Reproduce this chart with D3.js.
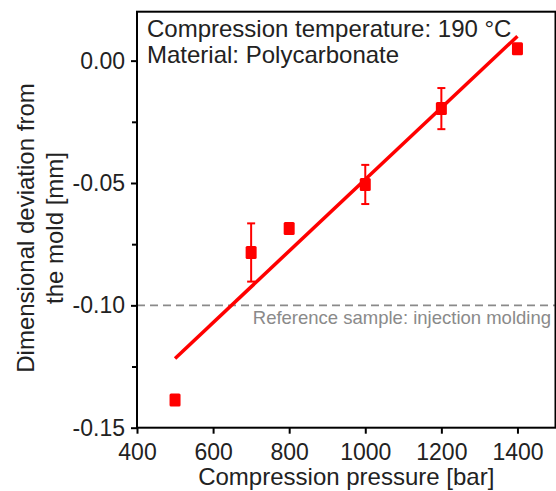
<!DOCTYPE html>
<html>
<head>
<meta charset="utf-8">
<script src="https://cdn.jsdelivr.net/npm/d3@7"></script>
<style>
  body { margin: 0; background: #fff; }
  text { font-family: "Liberation Sans", Arial, sans-serif; }
</style>
</head>
<body>
<div id="chart"></div>
<script>
"use strict";

var pressures = [500, 700, 800, 1000, 1200, 1400];
var deviations = [-0.1387, -0.0784, -0.0686, -0.0506, -0.0196, 0.0049];
var errors = [0.001, 0.0119, 0.001, 0.008, 0.0084, 0.001];
var fitPressures = [500, 1400];
var fitDeviations = [-0.1217, 0.0100];
var referenceValue = -0.10;
var xTicks = [400, 600, 800, 1000, 1200, 1400];
var yTicks = [0, -0.05, -0.10, -0.15];
var yMinorTicks = [-0.025, -0.075, -0.125];
var notes = ["Compression temperature: 190 °C", "Material: Polycarbonate"];
var referenceLabel = "Reference sample: injection molding";
var xTitle = "Compression pressure [bar]";
var yTitle = ["Dimensional deviation from", "the mold [mm]"];

function render() {
  var width = 556, height = 491,
    left = 137, right = 555.5, top = 11.7, bottom = 427.7;

  var x = d3.scaleLinear().domain([400, 1500]).range([left, right]);
  var y = d3.scaleLinear().domain([-0.15, 0.02]).range([bottom, top]);

  var svg = d3.select("#chart").append("svg")
    .attr("width", width)
    .attr("height", height);

  // reference line
  svg.append("line")
    .attr("x1", left).attr("x2", right)
    .attr("y1", y(referenceValue)).attr("y2", y(referenceValue))
    .style("stroke", "#8a8a8a")
    .style("stroke-width", 1.6)
    .style("stroke-dasharray", "8,5");

  svg.append("text")
    .attr("x", 551)
    .attr("y", y(referenceValue) + 19)
    .attr("text-anchor", "end")
    .style("font-size", "18.5px")
    .style("fill", "#8a8a8a")
    .text(referenceLabel);

  // fit line
  var fit = fitPressures.map(function(p, i) { return [p, fitDeviations[i]]; });
  svg.append("path")
    .datum(fit)
    .attr("d", d3.line().x(function(d) { return x(d[0]); }).y(function(d) { return y(d[1]); }))
    .style("fill", "none")
    .style("stroke", "#ff0000")
    .style("stroke-width", 3.5);

  var data = pressures.map(function(p, i) {
    return { p: p, v: deviations[i], e: errors[i] };
  });

  // error bars
  var err = svg.selectAll(".err")
    .data(data)
    .enter().append("g")
    .attr("class", "err")
    .style("stroke", "#ff0000")
    .style("stroke-width", 2);
  err.append("line")
    .attr("x1", function(d) { return x(d.p); })
    .attr("x2", function(d) { return x(d.p); })
    .attr("y1", function(d) { return y(d.v + d.e); })
    .attr("y2", function(d) { return y(d.v - d.e); });
  err.selectAll(".cap")
    .data(function(d) { return [d.v + d.e, d.v - d.e].map(function(v) { return { p: d.p, v: v }; }); })
    .enter().append("line")
    .attr("class", "cap")
    .attr("x1", function(d) { return x(d.p) - 4; })
    .attr("x2", function(d) { return x(d.p) + 4; })
    .attr("y1", function(d) { return y(d.v); })
    .attr("y2", function(d) { return y(d.v); });

  // markers
  svg.selectAll(".pt")
    .data(data)
    .enter().append("rect")
    .attr("class", "pt")
    .attr("x", function(d) { return x(d.p) - 5.5; })
    .attr("y", function(d) { return y(d.v) - 6.5; })
    .attr("width", 11)
    .attr("height", 13)
    .attr("rx", 1.5)
    .style("fill", "#ff0000");

  // axes
  var xAxis = svg.append("g")
    .attr("transform", "translate(0," + bottom + ")")
    .call(d3.axisBottom(x).tickValues(xTicks).tickSize(6).tickPadding(10)
      .tickFormat(d3.format("d")));
  var yAxis = svg.append("g")
    .attr("transform", "translate(" + left + ",0)")
    .call(d3.axisLeft(y).tickValues(yTicks).tickSize(6).tickPadding(6)
      .tickFormat(function(d) { return d.toFixed(2); }));
  svg.append("g")
    .attr("transform", "translate(" + left + ",0)")
    .call(d3.axisLeft(y).tickValues(yMinorTicks).tickSize(5).tickFormat(""))
    .select(".domain").remove();

  [xAxis, yAxis].forEach(function(a) {
    a.select(".domain").remove();
    a.selectAll("text")
      .style("font-family", "'Liberation Sans', Arial, sans-serif")
      .style("font-size", "23px")
      .style("fill", "#222");
  });
  svg.selectAll(".tick line").style("stroke", "#000").style("stroke-width", 2);

  // frame
  svg.append("rect")
    .attr("x", left).attr("y", top)
    .attr("width", right - left).attr("height", bottom - top)
    .style("fill", "none")
    .style("stroke", "#000")
    .style("stroke-width", 2);

  // notes
  svg.selectAll(".note")
    .data(notes)
    .enter().append("text")
    .attr("class", "note")
    .attr("x", 147)
    .attr("y", function(d, i) { return 36.7 + i * 26.6; })
    .style("font-size", "24px")
    .style("fill", "#222")
    .text(function(d) { return d; });

  svg.append("text")
    .attr("x", (left + right) / 2)
    .attr("y", 485)
    .attr("text-anchor", "middle")
    .style("font-size", "24px")
    .style("fill", "#222")
    .text(xTitle);

  svg.selectAll(".ytitle")
    .data(yTitle)
    .enter().append("text")
    .attr("class", "ytitle")
    .attr("text-anchor", "middle")
    .attr("transform", function(d, i) { return "translate(" + (34 + i * 29) + ",228) rotate(-90)"; })
    .style("font-size", "24px")
    .style("fill", "#222")
    .text(function(d) { return d; });
}

render();
</script>
</body>
</html>
